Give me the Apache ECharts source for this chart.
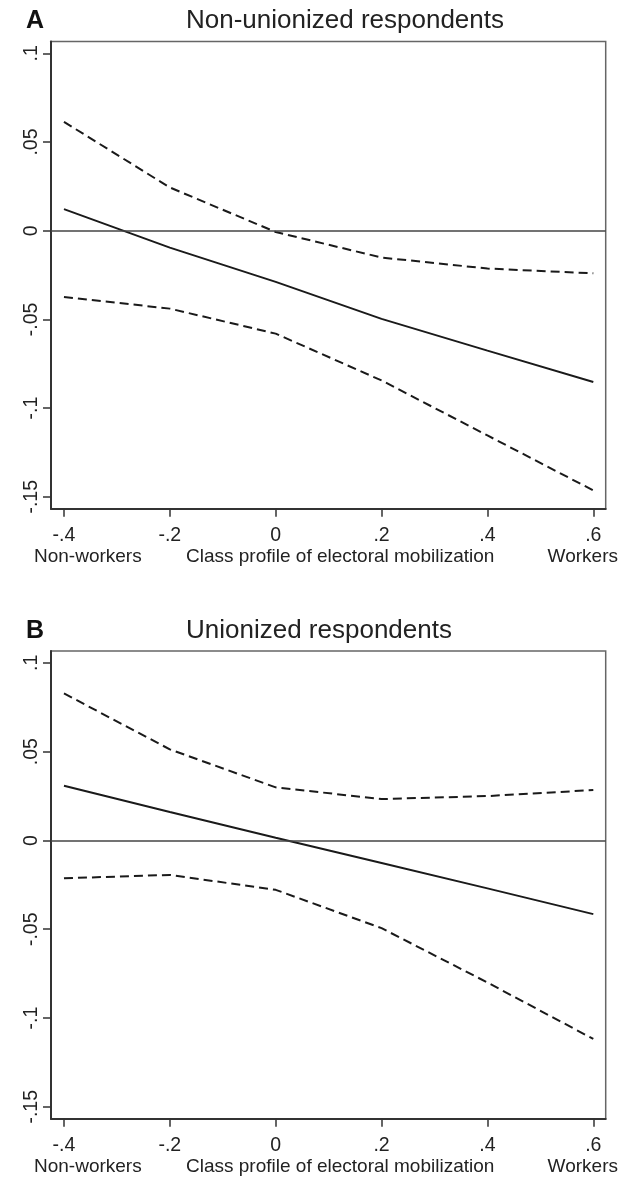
<!DOCTYPE html>
<html>
<head>
<meta charset="utf-8">
<script src="https://cdn.jsdelivr.net/npm/echarts@6.0.0/dist/echarts.min.js"></script>
<style>
  html, body { margin: 0; padding: 0; background: #fff; }
  #chart { width: 629px; height: 1178px; }
</style>
</head>
<body>
<div id="chart"></div>
<script>
// class profile of electoral mobilization (x)
var xVals = [-0.4, -0.2, 0, 0.2, 0.4, 0.6];
var xTicks = [-0.4, -0.2, 0, 0.2, 0.4, 0.6];
var yTicks = [-0.15, -0.1, -0.05, 0, 0.05, 0.1];

// panel A: non-unionized
var nonUnionEst   = [0.0122, -0.0095, -0.0288, -0.0497, -0.0676, -0.0853];
var nonUnionUpper = [0.0614, 0.0244, -0.0007, -0.0151, -0.0213, -0.0240];
var nonUnionLower = [-0.0373, -0.0439, -0.0580, -0.0844, -0.1154, -0.1464];

// panel B: unionized
var unionEst   = [0.0308, 0.0160, 0.0015, -0.0127, -0.0270, -0.0415];
var unionUpper = [0.0828, 0.0513, 0.0299, 0.0233, 0.0250, 0.0284];
var unionLower = [-0.0213, -0.0194, -0.0278, -0.0494, -0.0800, -0.1118];

var FONT = 'Liberation Sans, Arial, sans-serif';

function pairs(ys) {
    return xVals.map(function (x, i) { return [x, ys[i]]; });
}
function fmt(v) {
    if (v === 0) return '0';
    return String(v).replace('0.', '.');
}

function xAxisOf(idx) {
    return {
        type: 'value', gridIndex: idx,
        min: -0.4245, max: 0.6234,
        axisLine: { show: true, onZero: false, lineStyle: { color: '#333', width: 2 } },
        axisTick: { show: true, length: 8, customValues: xTicks, lineStyle: { color: '#333', width: 1.5 } },
        axisLabel: {
            customValues: xTicks, formatter: fmt, margin: 27,
            verticalAlign: 'middle', color: '#222', fontSize: 19.5, fontFamily: FONT
        },
        splitLine: { show: false }
    };
}
function yAxisOf(idx) {
    return {
        type: 'value', gridIndex: idx,
        min: -0.1567, max: 0.1067,
        axisLine: { show: true, onZero: false, lineStyle: { color: '#333', width: 2 } },
        axisTick: { show: true, length: 8, customValues: yTicks, lineStyle: { color: '#333', width: 1.5 } },
        axisLabel: {
            customValues: yTicks, formatter: fmt, rotate: 90, margin: 19,
            align: 'center', verticalAlign: 'middle', color: '#222', fontSize: 19.5, fontFamily: FONT
        },
        splitLine: { show: false }
    };
}
function lineOf(idx, ys, dashed, zero) {
    var s = {
        type: 'line', xAxisIndex: idx, yAxisIndex: idx,
        data: pairs(ys), symbol: 'none', silent: true,
        lineStyle: { color: '#1a1a1a', width: 2, type: dashed ? [9, 5] : 'solid' }
    };
    if (zero) {
        s.markLine = {
            silent: true, symbol: 'none', label: { show: false },
            lineStyle: { color: '#444', width: 1.6, type: 'solid' },
            data: [{ yAxis: 0 }]
        };
    }
    return s;
}

var option = {
    backgroundColor: '#fff',
    animation: false,
    grid: [
        { left: 51, top: 41.5, width: 554.7, height: 467.2, show: true, borderColor: '#666', borderWidth: 1.5 },
        { left: 51, top: 651, width: 554.7, height: 467.7, show: true, borderColor: '#666', borderWidth: 1.5 }
    ],
    xAxis: [xAxisOf(0), xAxisOf(1)],
    yAxis: [yAxisOf(0), yAxisOf(1)],
    graphic: [
        { type: 'text', left: 26, top: 9, style: { text: 'A', font: 'bold 25px ' + FONT, fill: '#111' } },
        { type: 'text', left: 186, top: 8, style: { text: 'Non-unionized respondents', font: '26px ' + FONT, fill: '#222' } },
        { type: 'text', x: 34, y: 557, style: { text: 'Non-workers', font: '19px ' + FONT, fill: '#222', verticalAlign: 'middle' } },
        { type: 'text', x: 186, y: 557, style: { text: 'Class profile of electoral mobilization', font: '19px ' + FONT, fill: '#222', verticalAlign: 'middle' } },
        { type: 'text', x: 618, y: 557, style: { text: 'Workers', font: '19px ' + FONT, fill: '#222', align: 'right', verticalAlign: 'middle' } },

        { type: 'text', left: 26, top: 619, style: { text: 'B', font: 'bold 25px ' + FONT, fill: '#111' } },
        { type: 'text', left: 186, top: 618, style: { text: 'Unionized respondents', font: '26px ' + FONT, fill: '#222' } },
        { type: 'text', x: 34, y: 1167, style: { text: 'Non-workers', font: '19px ' + FONT, fill: '#222', verticalAlign: 'middle' } },
        { type: 'text', x: 186, y: 1167, style: { text: 'Class profile of electoral mobilization', font: '19px ' + FONT, fill: '#222', verticalAlign: 'middle' } },
        { type: 'text', x: 618, y: 1167, style: { text: 'Workers', font: '19px ' + FONT, fill: '#222', align: 'right', verticalAlign: 'middle' } }
    ],
    series: [
        lineOf(0, nonUnionEst, false, true),
        lineOf(0, nonUnionUpper, true),
        lineOf(0, nonUnionLower, true),
        lineOf(1, unionEst, false, true),
        lineOf(1, unionUpper, true),
        lineOf(1, unionLower, true)
    ]
};

var chart = echarts.init(document.getElementById('chart'));
chart.setOption(option, true);
</script>
</body>
</html>
